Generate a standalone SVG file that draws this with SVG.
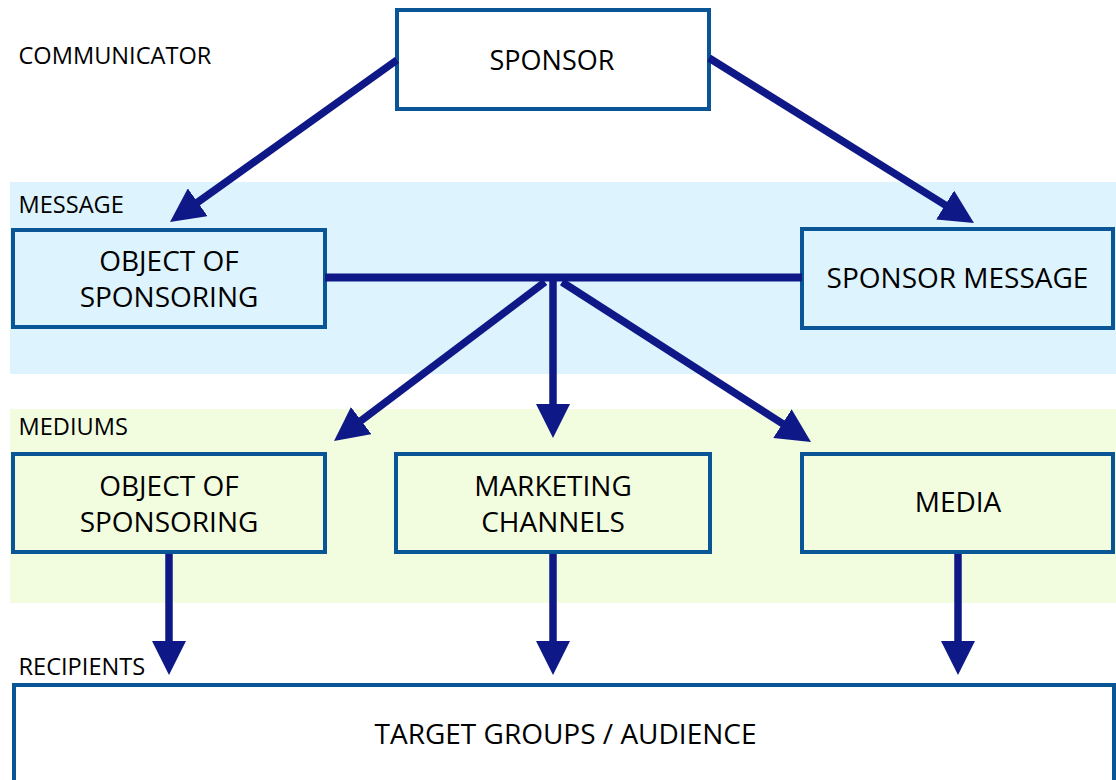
<svg xmlns="http://www.w3.org/2000/svg" width="1116" height="780" viewBox="0 0 1116 780">
  <defs>
    <style>
      .band-msg { fill: #ddf3fd; }
      .band-med { fill: #f2fde0; }
      .box { stroke: #0a5596; stroke-width: 4; }
      .white { fill: #ffffff; }
      .blue { fill: #ddf3fd; }
      .green { fill: #f2fde0; }
      .label { font-family: "Open Sans", "Liberation Sans", sans-serif; font-size: 23.6px; fill: #000; }
      .txt { font-family: "Open Sans", "Liberation Sans", sans-serif; font-size: 28px; fill: #000; text-anchor: middle; }
      .conn { stroke: #0e1886; stroke-width: 7.5; fill: none; }
      .bar { stroke: #0e1886; stroke-width: 8; fill: none; }
    </style>
    <marker id="head" markerUnits="userSpaceOnUse" viewBox="0 0 34 34" markerWidth="34" markerHeight="34" refX="14" refY="17" orient="auto">
      <path d="M0,0 L34,17 L0,34 z" fill="#0e1886"/>
    </marker>
  </defs>

  <rect width="1116" height="780" fill="#ffffff"/>

  <!-- layer bands -->
  <rect class="band-msg" x="10" y="182" width="1106" height="192"/>
  <rect class="band-med" x="10" y="409" width="1106" height="194"/>

  <!-- layer labels -->
  <text class="label" x="18.5" y="64">COMMUNICATOR</text>
  <text class="label" x="18.5" y="213">MESSAGE</text>
  <text class="label" x="18.5" y="435">MEDIUMS</text>
  <text class="label" x="18.5" y="675">RECIPIENTS</text>

  <g id="sponsor">
    <rect class="box white" x="397" y="10" width="312" height="99"/>
    <text class="txt" x="552" y="70" style="font-size:27px">SPONSOR</text>
  </g>

  <g id="msg-object">
    <rect class="box blue" x="13" y="230" width="312" height="97"/>
    <text class="txt" x="169" y="271">OBJECT OF</text>
    <text class="txt" x="169" y="307">SPONSORING</text>
  </g>

  <g id="msg-sponsor-message">
    <rect class="box blue" x="802" y="229" width="311" height="99"/>
    <text class="txt" x="957.5" y="288">SPONSOR MESSAGE</text>
  </g>

  <g id="med-object">
    <rect class="box green" x="13" y="454" width="312" height="98"/>
    <text class="txt" x="169" y="496">OBJECT OF</text>
    <text class="txt" x="169" y="532">SPONSORING</text>
  </g>

  <g id="med-marketing">
    <rect class="box green" x="396" y="454" width="314" height="98"/>
    <text class="txt" x="553" y="496">MARKETING</text>
    <text class="txt" x="553" y="532">CHANNELS</text>
  </g>

  <g id="med-media">
    <rect class="box green" x="802" y="454" width="311" height="98"/>
    <text class="txt" x="958" y="511.5">MEDIA</text>
  </g>

  <g id="recipients">
    <rect class="box white" x="14" y="685" width="1100" height="130"/>
    <text class="txt" x="565.5" y="744">TARGET GROUPS / AUDIENCE</text>
  </g>

  <g id="connectors">
    <line class="conn" x1="397" y1="60" x2="186.3" y2="210.4" marker-end="url(#head)"/>
    <line class="conn" x1="709" y1="58" x2="957" y2="212.4" marker-end="url(#head)"/>
    <line class="bar" x1="325" y1="277.5" x2="802" y2="277.5"/>
    <line class="conn" x1="545" y1="282" x2="350" y2="429" marker-end="url(#head)"/>
    <line class="conn" x1="553" y1="274" x2="553" y2="418" marker-end="url(#head)"/>
    <line class="conn" x1="562" y1="282" x2="794.2" y2="431.2" marker-end="url(#head)"/>
    <line class="conn" x1="169" y1="554" x2="169" y2="655" marker-end="url(#head)"/>
    <line class="conn" x1="553" y1="554" x2="553" y2="655" marker-end="url(#head)"/>
    <line class="conn" x1="958" y1="554" x2="958" y2="655" marker-end="url(#head)"/>
  </g>
</svg>
